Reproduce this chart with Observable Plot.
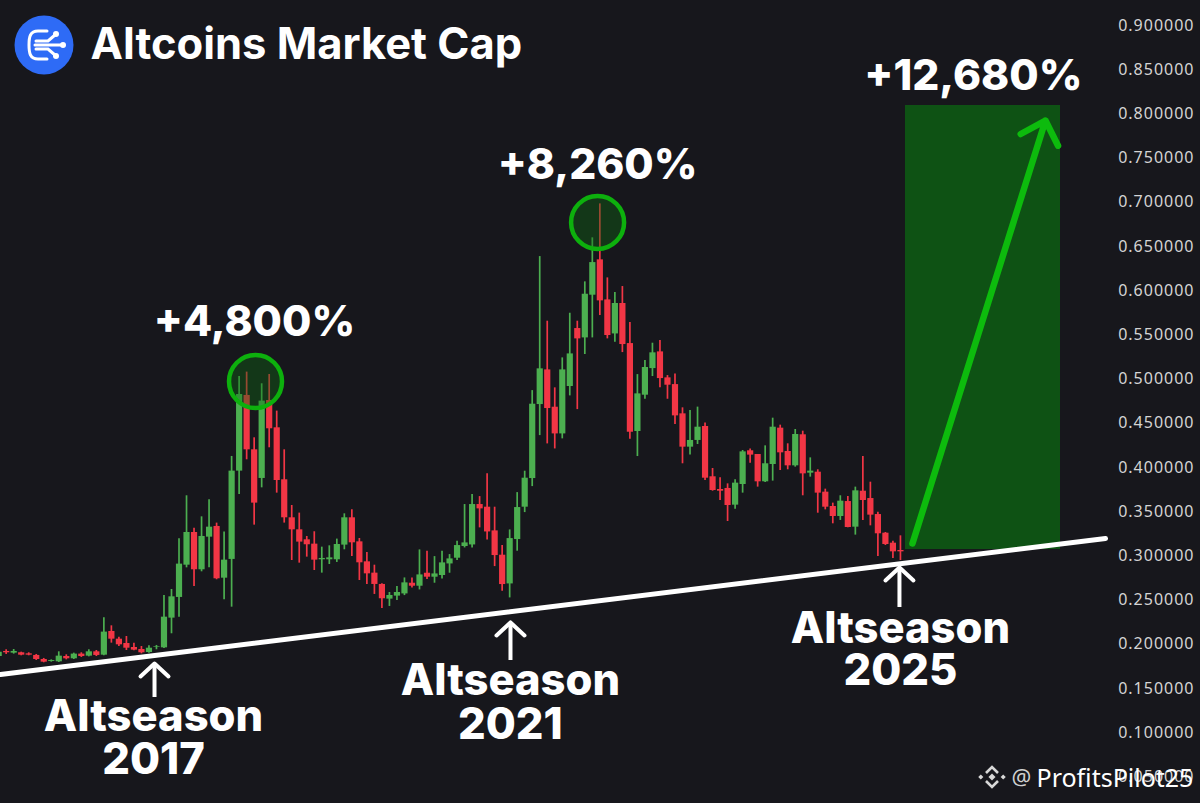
<!DOCTYPE html>
<html>
<head>
<meta charset="utf-8">
<script src="https://cdn.jsdelivr.net/npm/d3@7"></script>
<script src="https://cdn.jsdelivr.net/npm/@observablehq/plot@0.6"></script>
<style>
html,body{margin:0;padding:0;background:#17171c;overflow:hidden}
#wrap{position:relative;width:1200px;height:803px}
#wrap svg{display:block}
#logo,#bn{position:absolute}
#wrap g[aria-label="y-axis tick label"]{letter-spacing:1px}
</style>
</head>
<body>
<div id="wrap"></div>
<script>
const opens=[.1862,.1919,.1900,.1904,.1892,.1874,.1828,.1806,.1802,.1862,.1836,.1889,.1866,.1915,.1877,.2145,.2058,.2009,.1964,.1941,.1907,.1968,.1960,.2296,.2530,.2895,.3265,.2843,.3212,.3333,.2748,.2960,.3959,.4815,.4200,.3876,.4758,.4449,.3861,.3431,.3295,.3182,.3133,.2956,.2956,.2956,.3122,.3431,.3159,.2933,.2805,.2677,.2511,.2545,.2570,.2691,.2657,.2804,.2759,.2778,.2909,.2974,.3106,.3124,.3581,.3551,.3283,.3008,.2683,.3185,.3551,.3875,.4712,.5104,.4682,.4380,.4916,.5572,.5466,.5949,.6349,.5896,.5511,.5855,.5402,.4407,.4818,.5119,.5308,.5014,.4938,.4607,.4230,.4306,.4464,.3895,.3751,.3763,.3574,.3808,.4189,.4147,.3838,.4034,.4445,.4181,.4019,.4370,.3936,.3947,.3721,.3559,.3446,.3615,.3325,.3732,.3649,.3468,.3257,.3144,.3061];
const closes=[.1911,.1904,.1919,.1877,.1877,.1828,.1798,.1817,.1866,.1836,.1889,.1862,.1915,.1874,.2138,.2058,.1994,.1956,.1934,.1904,.1956,.1975,.2307,.2537,.2907,.3265,.2843,.3220,.3325,.2741,.2952,.3959,.4826,.4200,.3597,.4751,.4438,.3853,.3431,.3295,.3156,.3126,.2952,.2971,.2978,.3129,.3431,.3148,.2922,.2797,.2677,.2515,.2552,.2586,.2695,.2657,.2785,.2759,.2796,.2921,.2966,.3117,.3147,.3581,.3532,.3271,.3004,.2676,.3196,.3547,.3879,.4716,.5116,.4667,.4380,.5104,.5285,.5455,.5960,.6318,.5885,.5493,.5855,.5391,.4399,.4833,.5131,.5297,.5006,.4931,.4584,.4230,.4306,.4456,.3879,.3740,.3732,.3570,.3823,.4177,.4140,.3838,.4042,.4456,.4166,.4019,.4373,.3928,.3959,.3710,.3551,.3446,.3619,.3321,.3736,.3627,.3461,.3250,.3129,.3046,.3046];
const highs=[.1930,.1938,.1941,.1911,.1904,.1885,.1840,.1824,.1915,.1881,.1900,.1904,.1938,.1930,.2300,.2209,.2081,.2088,.2013,.1975,.1983,.1987,.2552,.2620,.3193,.3680,.3314,.3442,.3635,.3371,.3269,.4125,.5030,.5079,.4336,.4947,.5052,.4638,.4200,.3570,.3484,.3220,.3273,.3099,.3114,.3190,.3476,.3521,.3197,.3039,.2895,.2684,.2586,.2654,.2751,.2751,.3068,.3053,.2992,.3053,.3015,.3166,.3581,.3694,.3671,.3928,.3551,.3117,.3294,.3716,.3958,.4870,.6386,.5655,.4901,.5240,.5745,.5655,.6100,.6598,.6982,.6145,.5979,.6047,.5640,.5051,.5210,.5406,.5436,.5040,.5059,.4675,.4645,.4683,.4502,.3989,.3883,.3815,.3861,.4192,.4208,.4147,.4245,.4558,.4479,.4268,.4430,.4411,.4109,.3974,.3755,.3597,.3680,.3672,.3778,.4125,.3834,.3495,.3265,.3167,.3227];
const lows=[.1836,.1885,.1889,.1870,.1870,.1817,.1791,.1798,.1794,.1824,.1828,.1851,.1858,.1862,.1870,.2013,.1975,.1930,.1926,.1892,.1900,.1938,.1953,.2119,.2307,.2865,.2654,.2820,.2865,.2730,.2503,.2420,.3695,.4087,.3348,.3770,.4223,.3710,.3371,.2948,.2918,.2986,.2835,.2805,.2903,.2926,.3069,.2994,.2722,.2677,.2564,.2405,.2428,.2496,.2551,.2638,.2615,.2732,.2691,.2740,.2804,.2947,.3090,.3090,.3317,.3181,.2879,.2600,.2525,.3053,.3490,.3784,.4361,.4267,.4210,.4324,.4810,.4655,.5278,.5466,.5719,.5455,.5417,.5300,.4320,.4124,.4772,.5029,.4901,.4772,.4486,.4042,.4140,.4260,.3853,.3732,.3627,.3389,.3529,.3710,.4049,.3778,.3830,.3846,.3966,.3974,.4004,.3680,.3891,.3483,.3521,.3363,.3401,.3318,.3235,.3401,.3340,.2993,.3118,.2971,.2948];
const priceTicks=[.05,.1,.15,.2,.25,.3,.35,.4,.45,.5,.55,.6,.65,.7,.75,.8,.85,.9];

const gainLabels=["+4,800%","+8,260%","+12,680%"];
const gainX=[34.04,79.7,129.7];
const gainY=[.5640,.7416,.8423];
const peakX=[34.18,79.7];
const peakY=[.4973,.6772];
const seasonLabels=["Altseason","2017","Altseason","2021","Altseason","2025"];
const seasonX=[20.6,20.6,68.1,68.1,120,120];
const seasonY=[.1172,.0686,.1579,.1081,.2167,.1692];
const upArrowX=[20.74,68.11,119.87];
const upArrowFrom=[.1398,.1817,.2416];
const upArrowTo=[.1783,.2247,.2869];
const trendX=[.2455,147.29];
const trendY=[.1658,.3197];
const targetBox={x1:120.67,x2:141.3,y1:.3072,y2:.8095};
const targetArrow={x1:121.6,y1:.3140,x2:139.3,y2:.7925};

const candles=opens.map((o,i)=>({i,o,c:closes[i],h:highs[i],l:lows[i]}));
const colorOf=d=>d.c>=d.o?"#4caf50":"#f23645";
const inter='Inter, "Noto Sans", sans-serif';
const ups=upArrowX.map((x,i)=>({x,a:upArrowFrom[i],b:upArrowTo[i]}));
const chevron={draw(c){c.moveTo(-14,13);c.lineTo(0,0);c.lineTo(14,13);}};

const chart=Plot.plot({
  width:1200,height:803,margin:0,
  style:{background:"#17171c",overflow:"hidden"},
  x:{type:"linear",domain:[.2455,159.93],range:[0,1200],axis:null},
  y:{type:"linear",domain:[.92828,.01991],range:[0,803],axis:null},
  marks:[
    Plot.ruleX(candles,{x:"i",y1:"l",y2:"h",stroke:colorOf,strokeWidth:1.7}),
    Plot.ruleX(candles,{x:"i",y1:"o",y2:"c",stroke:colorOf,strokeWidth:6.2}),
    Plot.rect([targetBox],{x1:"x1",x2:"x2",y1:"y1",y2:"y2",fill:"#0e5214"}),
    Plot.dot(peakX.map((x,i)=>({x,y:peakY[i]})),{x:"x",y:"y",r:26.5,fill:"#0e6a14",fillOpacity:.4,stroke:"#0db00d",strokeWidth:4.5}),
    Plot.line(trendX.map((x,i)=>({x,y:trendY[i]})),{x:"x",y:"y",stroke:"#fff",strokeWidth:5}),
    Plot.ruleX(ups,{x:"x",y1:"a",y2:"b",stroke:"#fff",strokeWidth:4}),
    Plot.vector(ups,{x:"x",y:"b",length:1,anchor:"start",shape:chevron,stroke:"#fff",strokeWidth:4,strokeLinecap:"round",strokeLinejoin:"round"}),
    Plot.arrow([targetArrow],{x1:"x1",y1:"y1",x2:"x2",y2:"y2",stroke:"#0dbb0d",strokeWidth:6.5,headLength:6.5,headAngle:88,bend:0,inset:0}),
    Plot.text(gainLabels,{x:(d,i)=>gainX[i],y:(d,i)=>gainY[i],text:d=>d,fill:"#fff",fontFamily:inter,fontWeight:800,fontSize:42.5,textAnchor:"middle",lineAnchor:"middle"}),
    Plot.text(seasonLabels,{x:(d,i)=>seasonX[i],y:(d,i)=>seasonY[i],text:d=>d,fill:"#fff",fontFamily:inter,fontWeight:800,fontSize:43.5,textAnchor:"middle",lineAnchor:"middle"}),
    Plot.axisY(priceTicks,{anchor:"right",tickSize:0,tickPadding:0,dx:-6,textAnchor:"end",fill:"#d4d4d4",fontSize:16,fontFamily:'"Noto Sans", sans-serif',tickFormat:d=>d.toFixed(6),label:null}),
    Plot.text(["Altcoins Market Cap"],{frameAnchor:"top-left",dx:90,dy:45,text:d=>d,fill:"#fff",fontFamily:inter,fontWeight:700,fontSize:43.5,textAnchor:"start",lineAnchor:"middle"}),
    Plot.text(["@"],{frameAnchor:"top-left",dx:1011,dy:777,text:d=>d,fill:"#d0d0d0",fontFamily:'"Noto Sans", sans-serif',fontSize:22,textAnchor:"start",lineAnchor:"middle"}),
    Plot.text(["ProfitsPilot25"],{frameAnchor:"top-left",dx:1036,dy:778,text:d=>d,fill:"#fff",fontFamily:'"Noto Sans", sans-serif',fontSize:25,textAnchor:"start",lineAnchor:"middle"})
  ]
});
const wrap=document.getElementById("wrap");
wrap.appendChild(chart);
wrap.insertAdjacentHTML("beforeend",`
<svg id="logo" style="left:14px;top:15px" width="60" height="60" viewBox="0 0 60 60">
  <circle cx="30" cy="30" r="29.5" fill="#2e6bf6"/>
  <g fill="none" stroke="#fff" stroke-width="3" stroke-linecap="round">
    <path d="M33 16 H24 C16 16 15 22 15 30 C15 38 16 44 24 44 H33"/>
    <path d="M22 26 H34 L41 20"/><path d="M21 30 H48"/><path d="M22 34 H34 L41 40"/>
  </g>
  <g fill="#fff"><circle cx="42" cy="19" r="3"/><circle cx="49" cy="30" r="3"/><circle cx="42" cy="41" r="3"/></g>
</svg>
<svg id="bn" style="left:978px;top:763px" width="28" height="28" viewBox="0 0 28 28">
  <g fill="#d8d8d8"><rect x="11.5" y="11.5" width="5" height="5" transform="rotate(45 14 14)"/>
  <rect x="1" y="12.2" width="3.6" height="3.6" transform="rotate(45 2.8 14)"/><rect x="23.4" y="12.2" width="3.6" height="3.6" transform="rotate(45 25.2 14)"/></g>
  <g fill="none" stroke="#d8d8d8" stroke-width="2.6"><path d="M8 10 L14 4 L20 10"/><path d="M8 18 L14 24 L20 18"/></g>
</svg>`);
</script>
</body>
</html>
